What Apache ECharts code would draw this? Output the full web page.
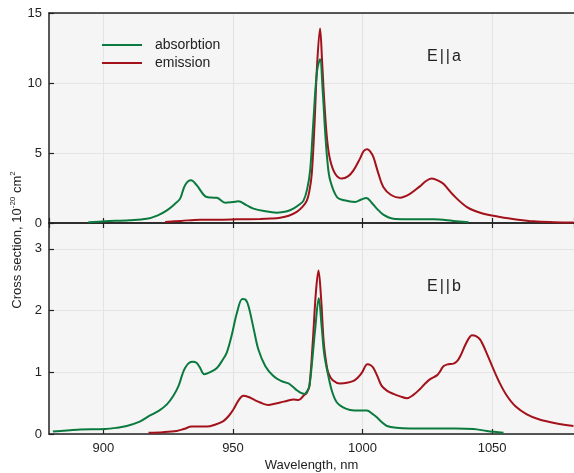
<!DOCTYPE html>
<html>
<head>
<meta charset="utf-8">
<script src="https://cdn.jsdelivr.net/npm/echarts@6/dist/echarts.min.js"></script>
<style>html,body{margin:0;padding:0;background:#fff}#c{width:574px;height:473px}</style>
</head>
<body>
<div id="c"></div>
<script>
// ---- data ----
const xTicks = [900, 950, 1000, 1050];
const topYTicks = [0, 5, 10, 15];
const botYTicks = [0, 1, 2, 3];
const seriesNames = ['absorbtion', 'emission'];
const panelLabels = ['E||a', 'E||b'];

// E||a absorption [wavelength nm, cross section]
const absA = [[894.2,0.05],[900.7,0.12],[910,0.2],[916.7,0.3],[921,0.55],[924.5,0.9],[927.5,1.35],[929.6,1.74],[931.5,2.7],[933.8,3.05],[936,2.7],[939.3,1.9],[941.5,1.82],[943.8,1.8],[947,1.45],[950,1.5],[952.1,1.55],[955,1.3],[957.9,1.03],[962,0.85],[966.9,0.74],[970.5,0.82],[973.3,1.03],[975.5,1.3],[977.2,1.6],[978.6,2.4],[979.8,3.8],[981,7.2],[982.4,10.8],[983.6,11.7],[984.6,9.5],[985.6,6.4],[986.5,4.3],[987.5,3.05],[990.1,1.86],[993,1.62],[997.1,1.5],[999.5,1.68],[1001.5,1.78],[1003.5,1.45],[1005.5,1.03],[1008,0.6],[1011.9,0.31],[1018,0.27],[1027.4,0.26],[1035,0.15],[1040.9,0.05]];
// E||a emission
const emiA = [[923.8,0.07],[930,0.15],[937.3,0.24],[944,0.24],[951.5,0.26],[960.5,0.29],[964.5,0.32],[968.2,0.38],[971.5,0.52],[974.6,0.79],[976.8,1.15],[978.5,1.6],[979.5,2.3],[980.4,3.5],[981.5,7.2],[982.4,11.1],[983.6,13.9],[984.4,11.5],[985.2,8.8],[986.3,6.0],[987.5,4.5],[989.5,3.5],[992,3.17],[994.5,3.35],[996.5,3.76],[999,4.6],[1000.5,5.15],[1001.9,5.26],[1003,5.1],[1004.2,4.7],[1006,3.6],[1008,2.57],[1011,2.0],[1014.5,1.81],[1018,2.05],[1022,2.6],[1024.5,3.0],[1026.7,3.17],[1029,3.05],[1031.2,2.8],[1035,2.0],[1040.3,1.14],[1046,0.7],[1053.1,0.43],[1060,0.24],[1066,0.12],[1074,0.06],[1081.4,0.03]];
// E||b absorption
const absB = [[880.5,0.04],[890,0.07],[900.7,0.08],[905,0.1],[909,0.13],[914,0.2],[918,0.3],[921.5,0.38],[924.5,0.48],[927,0.62],[929,0.78],[930.5,0.97],[931.5,1.07],[933,1.15],[934.5,1.17],[936,1.15],[937.2,1.08],[938.9,0.97],[941,1.0],[943.8,1.07],[946,1.2],[947.6,1.32],[949.5,1.6],[951.5,1.96],[953.6,2.19],[954.8,2.18],[956,2.07],[958,1.7],[959.8,1.37],[962.5,1.1],[965.6,0.94],[968.5,0.86],[971.4,0.82],[973,0.77],[974.6,0.71],[976,0.67],[977.6,0.65],[978.7,0.7],[979.5,0.78],[980.6,1.2],[981.7,1.69],[983.1,2.2],[984.2,1.75],[985.2,1.3],[986.8,0.94],[988.3,0.68],[990.1,0.51],[992.5,0.43],[995.2,0.39],[999,0.38],[1001.7,0.38],[1003.7,0.33],[1005.5,0.27],[1007.5,0.19],[1009.4,0.13],[1013,0.1],[1018.4,0.09],[1030,0.09],[1036,0.09],[1042.8,0.08],[1048,0.05],[1054.4,0.02]];
// E||b emission
const emiB = [[917.4,0.02],[923,0.03],[928.3,0.05],[931,0.08],[934.1,0.12],[937,0.12],[939.9,0.12],[943,0.15],[946.3,0.21],[948.5,0.3],[950.2,0.4],[952.2,0.55],[954,0.62],[956,0.6],[957.9,0.56],[960.5,0.51],[963.7,0.47],[966,0.49],[968.2,0.51],[971,0.54],[973.3,0.56],[975.3,0.55],[977.2,0.62],[978.5,0.67],[979.5,0.78],[980.8,1.5],[982,2.3],[983,2.65],[984,2.2],[985,1.5],[986,1.15],[986.8,0.99],[988.5,0.87],[991.3,0.82],[994,0.83],[996.5,0.86],[998.3,0.92],[999.7,0.99],[1001.9,1.13],[1003.3,1.11],[1004.2,1.07],[1005.8,0.93],[1007.4,0.78],[1009.5,0.7],[1011.9,0.65],[1014.5,0.61],[1017.1,0.58],[1019.5,0.63],[1022.2,0.73],[1024,0.81],[1026.1,0.89],[1028.7,0.95],[1030,1.02],[1031.2,1.1],[1033,1.13],[1035.1,1.14],[1036.5,1.18],[1037.7,1.26],[1039.5,1.43],[1041,1.55],[1042.2,1.6],[1043.6,1.59],[1045.4,1.53],[1048,1.3],[1050.5,1.05],[1053,0.82],[1055.7,0.62],[1059,0.45],[1063.4,0.32],[1068,0.24],[1074,0.18],[1081.4,0.13]];

const GREEN = '#0b7a3e';
const RED = '#a3111a';
const FONT = 'Liberation Sans, Arial, sans-serif';
const XMIN = 879, XMAX = 1081.6;

const chart = echarts.init(document.getElementById('c'), null, {renderer: 'canvas'});

function xAx(gridIndex, showLabels, position, tickInside) {
  const isTop = position === 'top';
  return {
    type: 'value', gridIndex: gridIndex, min: XMIN, max: XMAX, splitNumber: 5,
    position: position || 'bottom',
    axisLine: {show: true, onZero: false, lineStyle: {color: '#222', width: 1.5}},
    axisTick: {show: tickInside !== false, inside: true, length: 5, lineStyle: {color: '#222', width: 1.2}},
    axisLabel: {show: showLabels, showMinLabel: false, showMaxLabel: false, color: '#222', fontSize: 13, fontFamily: FONT, margin: 8,
      formatter: v => (xTicks.indexOf(v) >= 0 ? String(v) : '')},
    splitLine: {show: !isTop, showMinLine: false, showMaxLine: false, lineStyle: {color: '#e4e4e4', width: 1.2}},
    name: showLabels ? 'Wavelength, nm' : '', nameLocation: 'middle', nameGap: 25,
    nameTextStyle: {color: '#222', fontSize: 13, fontFamily: FONT}
  };
}
function yAx(gridIndex, max, interval, ticks) {
  return {
    type: 'value', gridIndex: gridIndex, min: 0, max: max, interval: interval,
    axisLine: {show: true, lineStyle: {color: '#222', width: 1.5}},
    axisTick: {show: true, inside: true, length: 5, lineStyle: {color: '#222', width: 1.2}},
    axisLabel: {color: '#222', fontSize: 13, fontFamily: FONT, margin: 7, showMaxLabel: gridIndex === 0,
      formatter: v => (ticks.indexOf(v) >= 0 ? String(v) : '')},
    splitLine: {show: true, lineStyle: {color: '#e4e4e4', width: 1.2}}
  };
}
function ser(name, data, color, xi, yi, z) {
  return {type: 'line', name: name, data: data, xAxisIndex: xi, yAxisIndex: yi, smooth: 0.35,
    showSymbol: false, symbol: 'none', z: z, lineStyle: {color: color, width: 2}, itemStyle: {color: color}};
}
function panelText(label) {
  return label.split('').map(ch => '{c|' + ch + '}').join('');
}

chart.setOption({
  animation: false,
  backgroundColor: '#ffffff',
  grid: [
    {left: 49, right: 0, top: 13, height: 210, show: true, backgroundColor: '#f5f5f5', borderWidth: 0},
    {left: 49, right: 0, top: 223, height: 212, show: true, backgroundColor: '#f5f5f5', borderWidth: 0}
  ],
  xAxis: [xAx(0, false), xAx(1, true), xAx(1, false, 'top'), xAx(0, false, 'top', false)],
  yAxis: [yAx(0, 15, 5, topYTicks), yAx(1, 3.42, 1, botYTicks)],
  legend: {
    data: seriesNames, orient: 'vertical', left: 102, top: 38, padding: 0, itemWidth: 40, itemHeight: 2, itemGap: 4,
    itemTextGap: 5,
    icon: 'rect', textStyle: {color: '#222', fontSize: 14, fontFamily: FONT, padding: [0, 0, 0, 8]}
  },
  graphic: [
    {type: 'text', left: 427, top: 49, style: {text: panelText(panelLabels[0]),
      rich: {c: {fontSize: 16, fontFamily: FONT, fill: '#222', padding: [0, 1, 0, 1]}}}},
    {type: 'text', left: 427, top: 279, style: {text: panelText(panelLabels[1]),
      rich: {c: {fontSize: 16, fontFamily: FONT, fill: '#222', padding: [0, 1, 0, 1]}}}},
    {type: 'text', x: 16, y: 240, rotation: Math.PI / 2, style: {
      text: '{n|Cross section, 10}{s|-20}{n| cm}{s|2}', align: 'center', verticalAlign: 'middle',
      rich: {n: {fontSize: 13, fontFamily: FONT, fill: '#222', lineHeight: 15, verticalAlign: 'bottom'},
             s: {fontSize: 8, fontFamily: FONT, fill: '#222', lineHeight: 15, verticalAlign: 'top'}}}}
  ],
  series: [
    ser(seriesNames[0], absA, GREEN, 0, 0, 3),
    ser(seriesNames[1], emiA, RED, 0, 0, 2),
    ser(seriesNames[0], absB, GREEN, 1, 1, 3),
    ser(seriesNames[1], emiB, RED, 1, 1, 2)
  ]
});
</script>
</body>
</html>
